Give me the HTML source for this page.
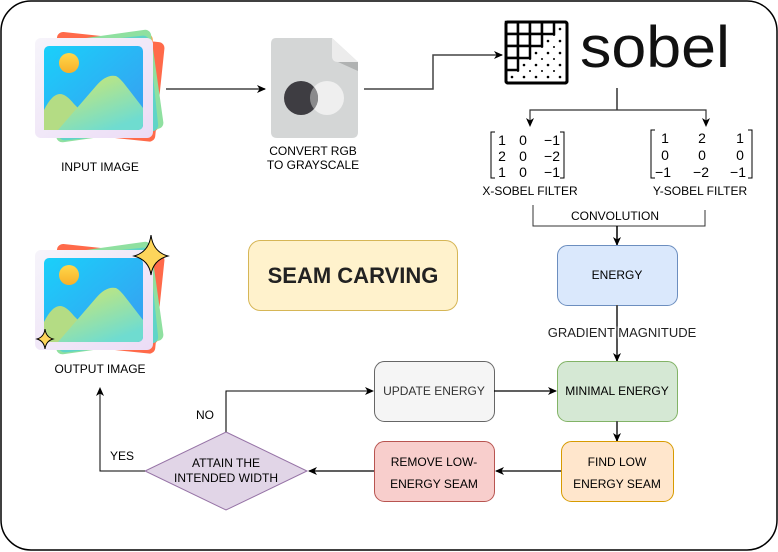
<!DOCTYPE html>
<html><head><meta charset="utf-8"><style>
html,body{margin:0;padding:0;background:#fff;}
svg{display:block;}
text{font-family:"Liberation Sans",Arial,sans-serif;}
</style></head><body>
<svg width="778" height="552" viewBox="0 0 778 552" xmlns="http://www.w3.org/2000/svg">
<defs>
<marker id="ar" markerWidth="10" markerHeight="10" refX="8" refY="5" orient="auto" markerUnits="userSpaceOnUse">
<path d="M0,1 L9,5 L0,9 L2.5,5 Z" fill="#000"/>
</marker>
<linearGradient id="sky" x1="0" y1="0" x2="1" y2="1"><stop offset="0" stop-color="#1ad0fa"/><stop offset="1" stop-color="#3a9bf0"/></linearGradient>
<linearGradient id="mt" x1="0" y1="0" x2="0.6" y2="1"><stop offset="0" stop-color="#d2e86c"/><stop offset="1" stop-color="#6fdcd0"/></linearGradient>
<linearGradient id="sun" x1="0" y1="0" x2="0" y2="1"><stop offset="0" stop-color="#ffd84a"/><stop offset="1" stop-color="#f7b02a"/></linearGradient>
<linearGradient id="frame" x1="0" y1="0" x2="1" y2="1"><stop offset="0" stop-color="#f6f4fa"/><stop offset="1" stop-color="#ecdcf6"/></linearGradient>
<g id="pic">
<rect x="48" y="37" width="108" height="98" rx="6" fill="#ff9a3c" transform="rotate(-4 100 88)"/>
<rect x="52" y="37" width="108" height="100" rx="6" fill="#ff6a4a" transform="rotate(6 108 88)"/>
<rect x="50" y="36" width="108" height="100" rx="6" fill="#8fe0a0" transform="rotate(-8 104 88)"/>
<rect x="54" y="40" width="100" height="96" rx="6" fill="#5fd4c8" transform="rotate(-6 104 88)"/>
<rect x="35" y="38" width="118" height="100" rx="6" fill="url(#frame)"/>
<rect x="44" y="46" width="99" height="84" rx="5" fill="url(#sky)"/>
<circle cx="69" cy="63" r="10" fill="url(#sun)"/>
<path d="M44,130 L44,110 Q52,94 60,94 Q66,94 74,104 L78,108 L60,130 Z" fill="#b4dc84"/>
<path d="M58,130 L96,86 Q106,74 116,76 Q120,78 126,86 L143,108 L143,124 Q143,130 137,130 Z" fill="url(#mt)"/>
</g>
</defs>

<rect x="1" y="1" width="776" height="549" rx="30" fill="#fff" stroke="#000" stroke-width="1.5"/>

<use href="#pic"/>
<text x="100" y="171" font-size="12" text-anchor="middle" fill="#000">INPUT IMAGE</text>
<line x1="166" y1="89" x2="265" y2="89" stroke="#444" stroke-width="1.5" marker-end="url(#ar)"/>

<path d="M276,38 L332,38 L358,62 L358,132 Q358,138 352,138 L277,138 Q271,138 271,132 L271,44 Q271,38 276,38 Z" fill="#d4d6d6"/>
<path d="M332,38 L358,62 L338,62 Q332,62 332,56 Z" fill="#ececec"/>
<path d="M338,62 L358,62 L358,71 Z" fill="#b0b2b2"/>
<circle cx="327" cy="98" r="17" fill="#efefef"/>
<circle cx="301" cy="98" r="17" fill="#3e3d42"/>
<path d="M314,87 A17,17 0 0 1 314,109 A17,17 0 0 1 314,87 Z" fill="#8a8a8c"/>
<text x="313" y="155" font-size="12" text-anchor="middle" fill="#000">CONVERT RGB</text>
<text x="313" y="169" font-size="12" text-anchor="middle" fill="#000">TO GRAYSCALE</text>
<polyline points="364,89 433,89 433,55 502,55" fill="none" stroke="#444" stroke-width="1.5" marker-end="url(#ar)"/>

<g>
<rect x="506" y="22" width="61" height="61" fill="#fff" stroke="#000" stroke-width="3" rx="2"/>
<g fill="#000">
<circle cx="560" cy="29" r="1.3"/><circle cx="548" cy="41" r="1.3"/><circle cx="560" cy="41" r="1.3"/><circle cx="554" cy="35" r="1"/>
<circle cx="536" cy="53" r="1.3"/><circle cx="548" cy="53" r="1.3"/><circle cx="560" cy="53" r="1.3"/>
<circle cx="542" cy="47" r="1"/><circle cx="554" cy="47" r="1"/>
<circle cx="524" cy="65" r="1.3"/><circle cx="536" cy="65" r="1.3"/><circle cx="548" cy="65" r="1.3"/><circle cx="560" cy="65" r="1.3"/>
<circle cx="530" cy="59" r="1"/><circle cx="542" cy="59" r="1"/><circle cx="554" cy="59" r="1"/>
<circle cx="512" cy="77" r="1.3"/><circle cx="524" cy="77" r="1.3"/><circle cx="536" cy="77" r="1.3"/><circle cx="548" cy="77" r="1.3"/><circle cx="560" cy="77" r="1.3"/>
<circle cx="518" cy="71" r="1"/><circle cx="530" cy="71" r="1"/><circle cx="542" cy="71" r="1"/><circle cx="554" cy="71" r="1"/>
</g>
<g fill="#fff" stroke="#000" stroke-width="2.5">
<rect x="506" y="22" width="12" height="12"/><rect x="518" y="22" width="12" height="12"/><rect x="530" y="22" width="12" height="12"/><rect x="542" y="22" width="12" height="12"/>
<rect x="506" y="34" width="12" height="12"/><rect x="518" y="34" width="12" height="12"/><rect x="530" y="34" width="12" height="12"/>
<rect x="506" y="46" width="12" height="12"/><rect x="518" y="46" width="12" height="12"/>
<rect x="506" y="58" width="12" height="12"/>
</g>
<rect x="506" y="22" width="61" height="61" fill="none" stroke="#000" stroke-width="3" rx="2"/>
</g>
<text x="580" y="67" font-family="Liberation Mono, monospace" font-size="58" textLength="150" lengthAdjust="spacingAndGlyphs" fill="#111">sobel</text>

<polyline points="617,88 617,110" fill="none" stroke="#333" stroke-width="1.5"/>
<polyline points="530,125 530,110 706,110 706,125" fill="none" stroke="#333" stroke-width="1.2"/>
<line x1="530" y1="118" x2="530" y2="126" stroke="#333" marker-end="url(#ar)"/>
<line x1="706" y1="118" x2="706" y2="126" stroke="#333" marker-end="url(#ar)"/>

<g font-family="Liberation Serif, serif" font-size="14" fill="#000" text-anchor="middle">
<path d="M495,132 H491 V178 H495 M560,132 H564 V178 H560" fill="none" stroke="#000" stroke-width="1"/>
<text x="502" y="145">1</text><text x="523" y="145">0</text><text x="552" y="145">−1</text>
<text x="502" y="161">2</text><text x="523" y="161">0</text><text x="552" y="161">−2</text>
<text x="502" y="177">1</text><text x="523" y="177">0</text><text x="552" y="177">−1</text>
<path d="M655,130 H651 V178 H655 M748,130 H752 V178 H748" fill="none" stroke="#000" stroke-width="1"/>
<text x="665" y="143">1</text><text x="702" y="143">2</text><text x="740" y="143">1</text>
<text x="665" y="160">0</text><text x="702" y="160">0</text><text x="740" y="160">0</text>
<text x="663" y="177">−1</text><text x="701" y="177">−2</text><text x="738" y="177">−1</text>
</g>
<text x="530" y="195" font-size="12" text-anchor="middle">X-SOBEL FILTER</text>
<text x="700" y="195" font-size="12" text-anchor="middle">Y-SOBEL FILTER</text>
<text x="615" y="220" font-size="12" text-anchor="middle">CONVOLUTION</text>
<polyline points="533,205 533,226 705,226 705,210" fill="none" stroke="#333" stroke-width="1"/>
<line x1="617" y1="226" x2="617" y2="245" stroke="#000" stroke-width="1.5" marker-end="url(#ar)"/>

<use href="#pic" transform="translate(0,212)"/>
<path d="M151,235 Q153,252 168,256 Q153,260 151,275 Q149,260 134,256 Q149,252 151,235 Z" fill="#fdd55b" stroke="#000" stroke-width="1"/>
<path d="M45,329 Q46,337 53,339 Q46,341 45,349 Q44,341 37,339 Q44,337 45,329 Z" fill="#fdd55b" stroke="#000" stroke-width="1"/>
<text x="100" y="373" font-size="12" text-anchor="middle">OUTPUT IMAGE</text>

<rect x="248.5" y="240.5" width="209" height="70" rx="12" fill="#fff2cc" stroke="#d6b656"/>
<text x="353" y="283" font-size="22" font-weight="bold" text-anchor="middle" fill="#222">SEAM CARVING</text>

<rect x="557.5" y="245.5" width="120" height="60" rx="10" fill="#dae8fc" stroke="#6c8ebf"/>
<text x="617" y="279" font-size="12" text-anchor="middle">ENERGY</text>
<line x1="617" y1="305" x2="617" y2="361" stroke="#555" stroke-width="2" marker-end="url(#ar)"/>
<text x="622" y="337" font-size="13" text-anchor="middle" fill="#222" stroke="#fff" stroke-width="3" paint-order="stroke">GRADIENT MAGNITUDE</text>

<rect x="557.5" y="361.5" width="120" height="60" rx="10" fill="#d5e8d4" stroke="#82b366"/>
<text x="617" y="395" font-size="12" text-anchor="middle">MINIMAL ENERGY</text>
<line x1="617" y1="421" x2="617" y2="441" stroke="#555" stroke-width="2" marker-end="url(#ar)"/>

<rect x="561.5" y="441.5" width="112" height="60" rx="10" fill="#ffe6cc" stroke="#d79b00"/>
<text x="617" y="466" font-size="12" text-anchor="middle">FIND LOW</text>
<text x="617" y="488" font-size="12" text-anchor="middle">ENERGY SEAM</text>
<line x1="561" y1="471" x2="496" y2="471" stroke="#000" stroke-width="1.2" marker-end="url(#ar)"/>

<rect x="374.5" y="441.5" width="120" height="60" rx="10" fill="#f8cecc" stroke="#b85450"/>
<text x="434" y="466" font-size="12" text-anchor="middle">REMOVE LOW-</text>
<text x="434" y="488" font-size="12" text-anchor="middle">ENERGY SEAM</text>
<line x1="374" y1="471" x2="309" y2="471" stroke="#000" stroke-width="1.2" marker-end="url(#ar)"/>

<rect x="374.5" y="361.5" width="120" height="60" rx="10" fill="#f5f5f5" stroke="#666"/>
<text x="434" y="395" font-size="12" text-anchor="middle" fill="#333">UPDATE ENERGY</text>
<line x1="494" y1="391" x2="556" y2="391" stroke="#000" stroke-width="1.2" marker-end="url(#ar)"/>

<polygon points="226,432 307,471 226,510 145,471" fill="#e1d5e7" stroke="#9673a6"/>
<text x="226" y="467" font-size="12" text-anchor="middle">ATTAIN THE</text>
<text x="226" y="482" font-size="12" text-anchor="middle">INTENDED WIDTH</text>
<polyline points="226,432 226,391 373,391" fill="none" stroke="#000" stroke-width="1" marker-end="url(#ar)"/>
<line x1="226" y1="432" x2="226" y2="392" stroke="#777" stroke-width="2"/>
<text x="205" y="419" font-size="12" text-anchor="middle">NO</text>
<polyline points="145,471 100,471 100,388" fill="none" stroke="#000" stroke-width="1" marker-end="url(#ar)"/>
<text x="122" y="460" font-size="12" text-anchor="middle">YES</text>
</svg>
</body></html>
